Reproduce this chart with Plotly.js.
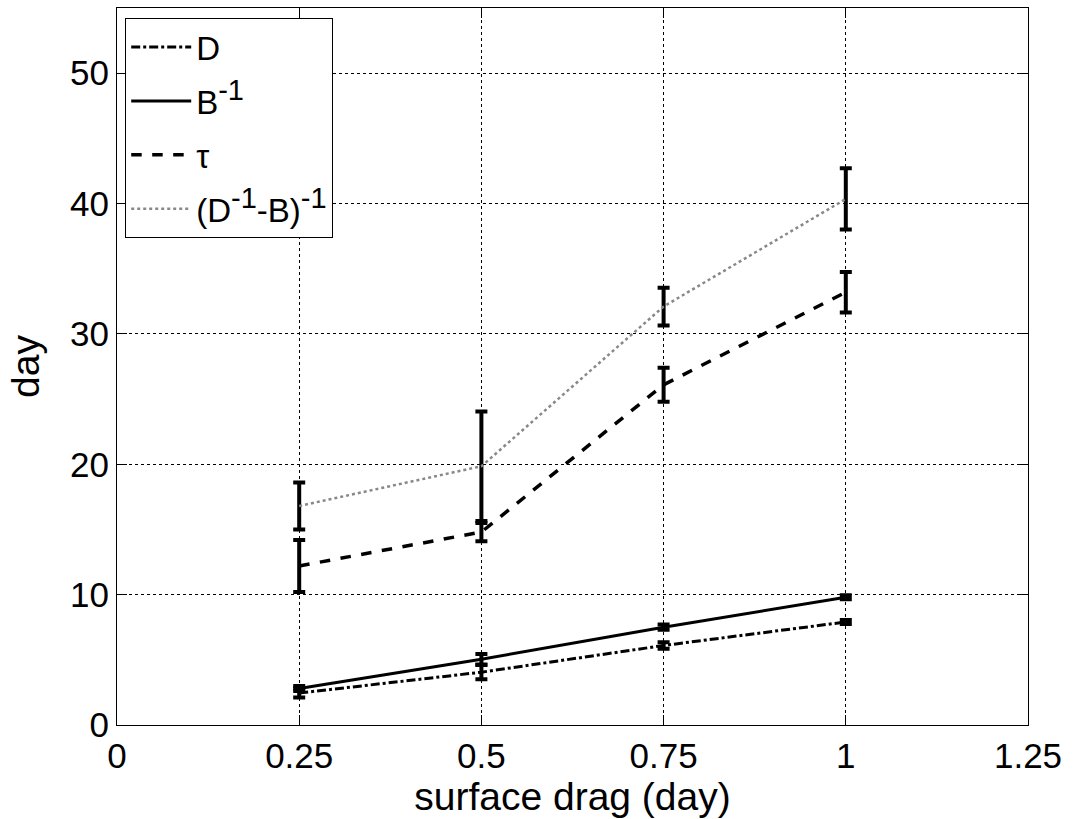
<!DOCTYPE html>
<html><head><meta charset="utf-8">
<script src="https://cdn.plot.ly/plotly-3.0.1.min.js"></script>
<style>html,body{margin:0;padding:0;background:#fff}#chart{width:1084px;height:819px}</style>
</head><body><div id="chart"></div>
<script>
const drag = [0.25, 0.5, 0.75, 1];
const D_vals = [2.45, 4.05, 6.1, 7.9];
const D_err = [0.35, 0.55, 0.25, 0.15];
const Binv_vals = [2.8, 5.05, 7.5, 9.8];
const Binv_err = [0.2, 0.4, 0.2, 0.15];
const tau_vals = [12.2, 14.8, 26.1, 33.2];
const tau_err = [2.0, 0.7, 1.3, 1.55];
const comb_vals = [16.8, 19.85, 32.1, 40.35];
const comb_err = [1.8, 4.2, 1.45, 2.35];
const xTicks = [0, 0.25, 0.5, 0.75, 1, 1.25];
const xTickLabels = ['0', '0.25', '0.5', '0.75', '1', '1.25'];
const yTicks = [0, 10, 20, 30, 40, 50];
const supM1 = '<sup><span style="font-size:29px">-1</span></sup>';
const seriesNames = ['D', 'B' + supM1, 'τ', '(D' + supM1 + '-B)' + supM1];

function errBar(arr){return {type:'data', array:arr, visible:true, color:'#000', thickness:4, width:6};}

const traces = [
  {x:drag, y:D_vals, name:seriesNames[0], mode:'lines', line:{color:'#000', width:3, dash:'dashdot'}, error_y:errBar(D_err), legendgroup:'a'},
  {x:drag, y:Binv_vals, name:seriesNames[1], mode:'lines', line:{color:'#000', width:3, dash:'solid'}, error_y:errBar(Binv_err), legendgroup:'b'},
  {x:drag, y:tau_vals, name:seriesNames[2], mode:'lines', line:{color:'#000', width:3.5, dash:'dash'}, error_y:errBar(tau_err), legendgroup:'c'},
  {x:drag, y:comb_vals, name:seriesNames[3], mode:'lines', line:{color:'#888', width:2.5, dash:'dot'}, error_y:errBar(comb_err), legendgroup:'d'}
];

const fam = 'Liberation Sans, Arial, sans-serif';
const tickFont = {family:fam, size:35, color:'#000'};
const titleFont = {family:fam, size:39, color:'#000'};
const layout = {
  width:1084, height:819,
  margin:{l:117, r:56, t:8, b:94},
  paper_bgcolor:'#fff', plot_bgcolor:'#fff',
  font:tickFont,
  showlegend:true,
  legend:{x:0.009, y:0.986, xanchor:'left', yanchor:'top', bgcolor:'#fff', bordercolor:'#000', borderwidth:1,
    font:{family:fam, size:33, color:'#000'}, tracegroupgap:8, itemwidth:60},
  xaxis:{range:[0,1.25], tickvals:xTicks, ticktext:xTickLabels, showgrid:true, gridcolor:'#000', griddash:'dot', gridwidth:1,
    zeroline:false, showline:true, linecolor:'#000', linewidth:1, mirror:'ticks', ticks:'inside', ticklen:10, tickcolor:'#000',
    tickfont:tickFont, title:{text:'surface drag (day)', font:titleFont, standoff:4}},
  yaxis:{range:[0,55], tickvals:yTicks, showgrid:true, gridcolor:'#000', griddash:'dot', gridwidth:1,
    zeroline:false, showline:true, linecolor:'#000', linewidth:1, mirror:'ticks', ticks:'inside', ticklen:10, tickcolor:'#000',
    tickfont:tickFont, title:{text:'day', font:titleFont, standoff:18}}
};
Plotly.newPlot('chart', traces, layout, {displayModeBar:false, staticPlot:true});
</script></body></html>
